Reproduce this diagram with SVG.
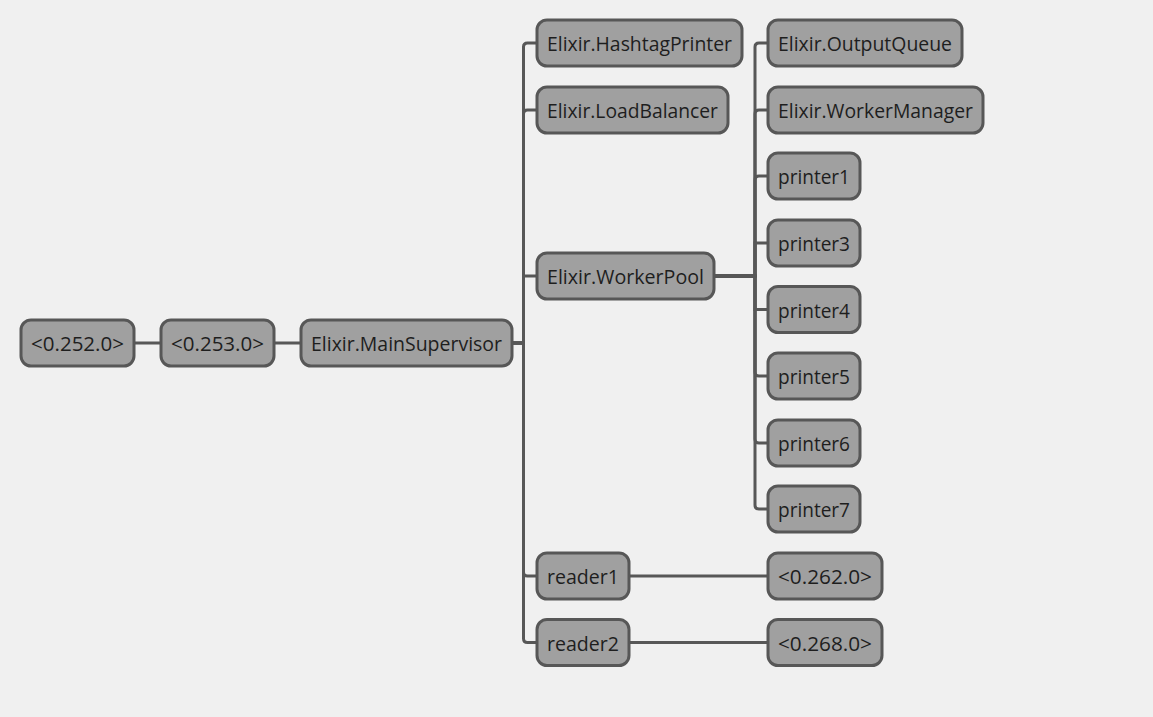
<svg xmlns="http://www.w3.org/2000/svg" width="1153" height="717" viewBox="0 0 1153 717">
<style>
.n rect{fill:#a0a0a0;stroke:#575757;stroke-width:3}
.n text{font-family:"Segoe UI","Open Sans","Noto Sans",sans-serif;font-size:20px;fill:#1e1e1e;text-anchor:middle}
.e path{fill:none;stroke:#575757;stroke-width:3}
</style>
<rect width="1153" height="717" fill="#f0f0f0"/>
<g class="e" id="connectors">
<path d="M134 343H161"/>
<path d="M274 343H301"/>
<path d="M512 343H523.5V47Q523.5 43 527.5 43H537"/>
<path d="M512 343H523.5V114Q523.5 110 527.5 110H537"/>
<path d="M512 343H523.5V276H537"/>
<path d="M512 343H523.5V572Q523.5 576 527.5 576H537"/>
<path d="M512 343H523.5V638.5Q523.5 642.5 527.5 642.5H537"/>
<path d="M714 276H755V47Q755 43 759 43H768"/>
<path d="M714 276H755V114Q755 110 759 110H768"/>
<path d="M714 276H755V180Q755 176 759 176H768"/>
<path d="M714 276H755V243H768"/>
<path d="M714 276H755V309.5H768"/>
<path d="M714 276H755V372Q755 376 759 376H768"/>
<path d="M714 276H755V439Q755 443 759 443H768"/>
<path d="M714 276H755V505Q755 509 759 509H768"/>
<path d="M629 576H768"/>
<path d="M629 642.5H768"/>
</g>
<g class="n" id="n252"><rect x="21" y="320" width="113" height="46" rx="10"/><text x="77.5" y="351" textLength="93" lengthAdjust="spacingAndGlyphs">&lt;0.252.0&gt;</text></g>
<g class="n" id="n253"><rect x="161" y="320" width="113" height="46" rx="10"/><text x="217.5" y="351" textLength="93" lengthAdjust="spacingAndGlyphs">&lt;0.253.0&gt;</text></g>
<g class="n" id="mainsup"><rect x="301" y="320" width="211" height="46" rx="10"/><text x="406.5" y="351" textLength="191" lengthAdjust="spacingAndGlyphs">Elixir.MainSupervisor</text></g>
<g class="n" id="hashtag"><rect x="537" y="20" width="205" height="46" rx="10"/><text x="639.5" y="51" textLength="185" lengthAdjust="spacingAndGlyphs">Elixir.HashtagPrinter</text></g>
<g class="n" id="loadbal"><rect x="537" y="87" width="191" height="46" rx="10"/><text x="632.5" y="118" textLength="171" lengthAdjust="spacingAndGlyphs">Elixir.LoadBalancer</text></g>
<g class="n" id="workerpool"><rect x="537" y="253" width="177" height="46" rx="10"/><text x="625.5" y="284" textLength="157" lengthAdjust="spacingAndGlyphs">Elixir.WorkerPool</text></g>
<g class="n" id="reader1"><rect x="537" y="553" width="92" height="46" rx="10"/><text x="583" y="584" textLength="72" lengthAdjust="spacingAndGlyphs">reader1</text></g>
<g class="n" id="reader2"><rect x="537" y="619.5" width="92" height="46" rx="10"/><text x="583" y="650.5" textLength="72" lengthAdjust="spacingAndGlyphs">reader2</text></g>
<g class="n" id="outq"><rect x="768" y="20" width="194" height="46" rx="10"/><text x="865" y="51" textLength="174" lengthAdjust="spacingAndGlyphs">Elixir.OutputQueue</text></g>
<g class="n" id="workmgr"><rect x="768" y="87" width="215" height="46" rx="10"/><text x="875.5" y="118" textLength="195" lengthAdjust="spacingAndGlyphs">Elixir.WorkerManager</text></g>
<g class="n" id="printer1"><rect x="768" y="153" width="92" height="46" rx="10"/><text x="814" y="184" textLength="72" lengthAdjust="spacingAndGlyphs">printer1</text></g>
<g class="n" id="printer3"><rect x="768" y="220" width="92" height="46" rx="10"/><text x="814" y="251" textLength="72" lengthAdjust="spacingAndGlyphs">printer3</text></g>
<g class="n" id="printer4"><rect x="768" y="286.5" width="92" height="46" rx="10"/><text x="814" y="317.5" textLength="72" lengthAdjust="spacingAndGlyphs">printer4</text></g>
<g class="n" id="printer5"><rect x="768" y="353" width="92" height="46" rx="10"/><text x="814" y="384" textLength="72" lengthAdjust="spacingAndGlyphs">printer5</text></g>
<g class="n" id="printer6"><rect x="768" y="420" width="92" height="46" rx="10"/><text x="814" y="451" textLength="72" lengthAdjust="spacingAndGlyphs">printer6</text></g>
<g class="n" id="printer7"><rect x="768" y="486" width="92" height="46" rx="10"/><text x="814" y="517" textLength="72" lengthAdjust="spacingAndGlyphs">printer7</text></g>
<g class="n" id="n262"><rect x="768" y="553" width="114" height="46" rx="10"/><text x="825" y="584" textLength="94" lengthAdjust="spacingAndGlyphs">&lt;0.262.0&gt;</text></g>
<g class="n" id="n268"><rect x="768" y="619.5" width="114" height="46" rx="10"/><text x="825" y="650.5" textLength="94" lengthAdjust="spacingAndGlyphs">&lt;0.268.0&gt;</text></g>
</svg>
